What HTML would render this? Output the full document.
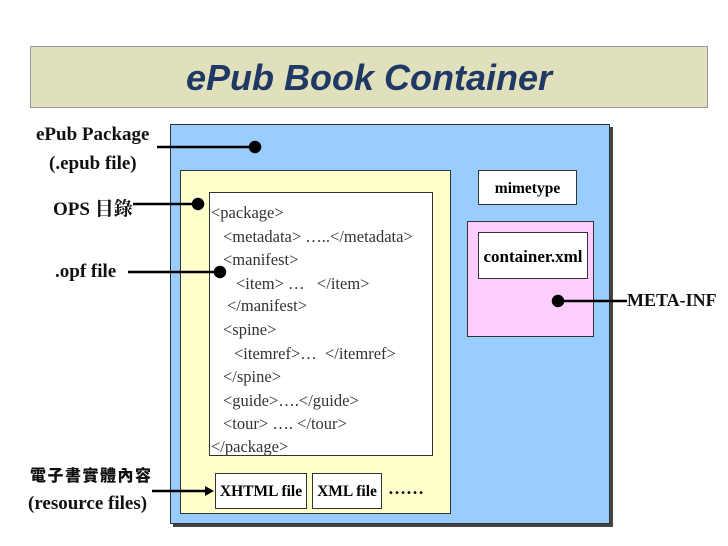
<!DOCTYPE html>
<html><head><meta charset="utf-8"><style>
body{margin:0;width:728px;height:546px;background:#fff;position:relative;overflow:hidden;font-family:"Liberation Serif","Noto Serif CJK SC",serif}
.a{position:absolute;box-sizing:border-box}
.lbl{position:absolute;font-weight:bold;font-size:19px;color:#111;white-space:nowrap}
.code{position:absolute;font-size:16.5px;color:#333;white-space:pre;line-height:20px}
</style></head><body>
<div class="a" style="left:30px;top:46px;width:678px;height:62px;background:#e0e0bd;border:1px solid #999"></div>
<div class="a" style="left:30px;top:56px;width:678px;text-align:center;font-family:'Liberation Sans',sans-serif;font-style:italic;font-weight:bold;font-size:36px;color:#1f3864;line-height:44px">ePub Book Container</div>
<div class="a" style="left:173px;top:127px;width:440px;height:400px;background:#444"></div>
<div class="a" style="left:170px;top:124px;width:440px;height:400px;background:#99ccff;border:1px solid #333"></div>
<div class="a" style="left:180px;top:170px;width:271px;height:344px;background:#ffffcc;border:1px solid #333"></div>
<div class="a" style="left:209px;top:192px;width:224px;height:264px;background:#fff;border:1px solid #333"></div>
<div class="code" style="left:211px;top:203px">&lt;package&gt;</div>
<div class="code" style="left:223px;top:227px">&lt;metadata&gt; …..&lt;/metadata&gt;</div>
<div class="code" style="left:223px;top:250px">&lt;manifest&gt;</div>
<div class="code" style="left:236px;top:274px">&lt;item&gt; …   &lt;/item&gt;</div>
<div class="code" style="left:227px;top:296px">&lt;/manifest&gt;</div>
<div class="code" style="left:223px;top:320px">&lt;spine&gt;</div>
<div class="code" style="left:234px;top:344px">&lt;itemref&gt;…  &lt;/itemref&gt;</div>
<div class="code" style="left:223px;top:367px">&lt;/spine&gt;</div>
<div class="code" style="left:223px;top:391px">&lt;guide&gt;….&lt;/guide&gt;</div>
<div class="code" style="left:223px;top:414px">&lt;tour&gt; …. &lt;/tour&gt;</div>
<div class="code" style="left:211px;top:437px">&lt;/package&gt;</div>
<div class="a" style="left:215px;top:473px;width:92px;height:36px;background:#fff;border:1px solid #333;font-weight:bold;font-size:15.5px;text-align:center;line-height:36px;white-space:nowrap">XHTML file</div>
<div class="a" style="left:312px;top:473px;width:70px;height:36px;background:#fff;border:1px solid #333;font-weight:bold;font-size:15.5px;text-align:center;line-height:36px;white-space:nowrap">XML file</div>
<div class="lbl" style="left:388px;top:478px;font-size:18px">……</div>
<div class="a" style="left:478px;top:170px;width:99px;height:35px;background:#fff;border:1px solid #333;font-weight:bold;font-size:15.5px;text-align:center;line-height:35px">mimetype</div>
<div class="a" style="left:467px;top:221px;width:127px;height:116px;background:#ffccff;border:1px solid #333"></div>
<div class="a" style="left:478px;top:232px;width:110px;height:47px;background:#fff;border:1px solid #333;font-weight:bold;font-size:17px;text-align:center;line-height:47px;white-space:nowrap">container.xml</div>
<div class="lbl" style="left:36px;top:124px">ePub Package</div>
<div class="lbl" style="left:49px;top:153px">(.epub file)</div>
<div class="lbl" style="left:53px;top:194px">OPS 目錄</div>
<div class="lbl" style="left:55px;top:261px">.opf file</div>
<div class="lbl" style="left:30px;top:462px;font-size:16px;letter-spacing:1.5px;font-family:'Noto Sans CJK TC',sans-serif;font-weight:900">電子書實體內容</div>
<div class="lbl" style="left:28px;top:493px">(resource files)</div>
<div class="lbl" style="left:627px;top:290px;font-size:18px">META-INF</div>
<svg class="a" style="left:0;top:0" width="728" height="546">
<g stroke="#000" stroke-width="2.5" fill="#000">
<line x1="157" y1="147" x2="255" y2="147"/><circle cx="255" cy="147" r="5"/>
<line x1="133" y1="204" x2="198" y2="204"/><circle cx="198" cy="204" r="5"/>
<line x1="128" y1="272" x2="220" y2="272"/><circle cx="220" cy="272" r="5"/>
<line x1="558" y1="301" x2="627" y2="301"/><circle cx="558" cy="301" r="5"/>
<line x1="152" y1="491" x2="206" y2="491"/>
</g>
<polygon points="214,491 205,486 205,496" fill="#000"/>
</svg>
</body></html>
